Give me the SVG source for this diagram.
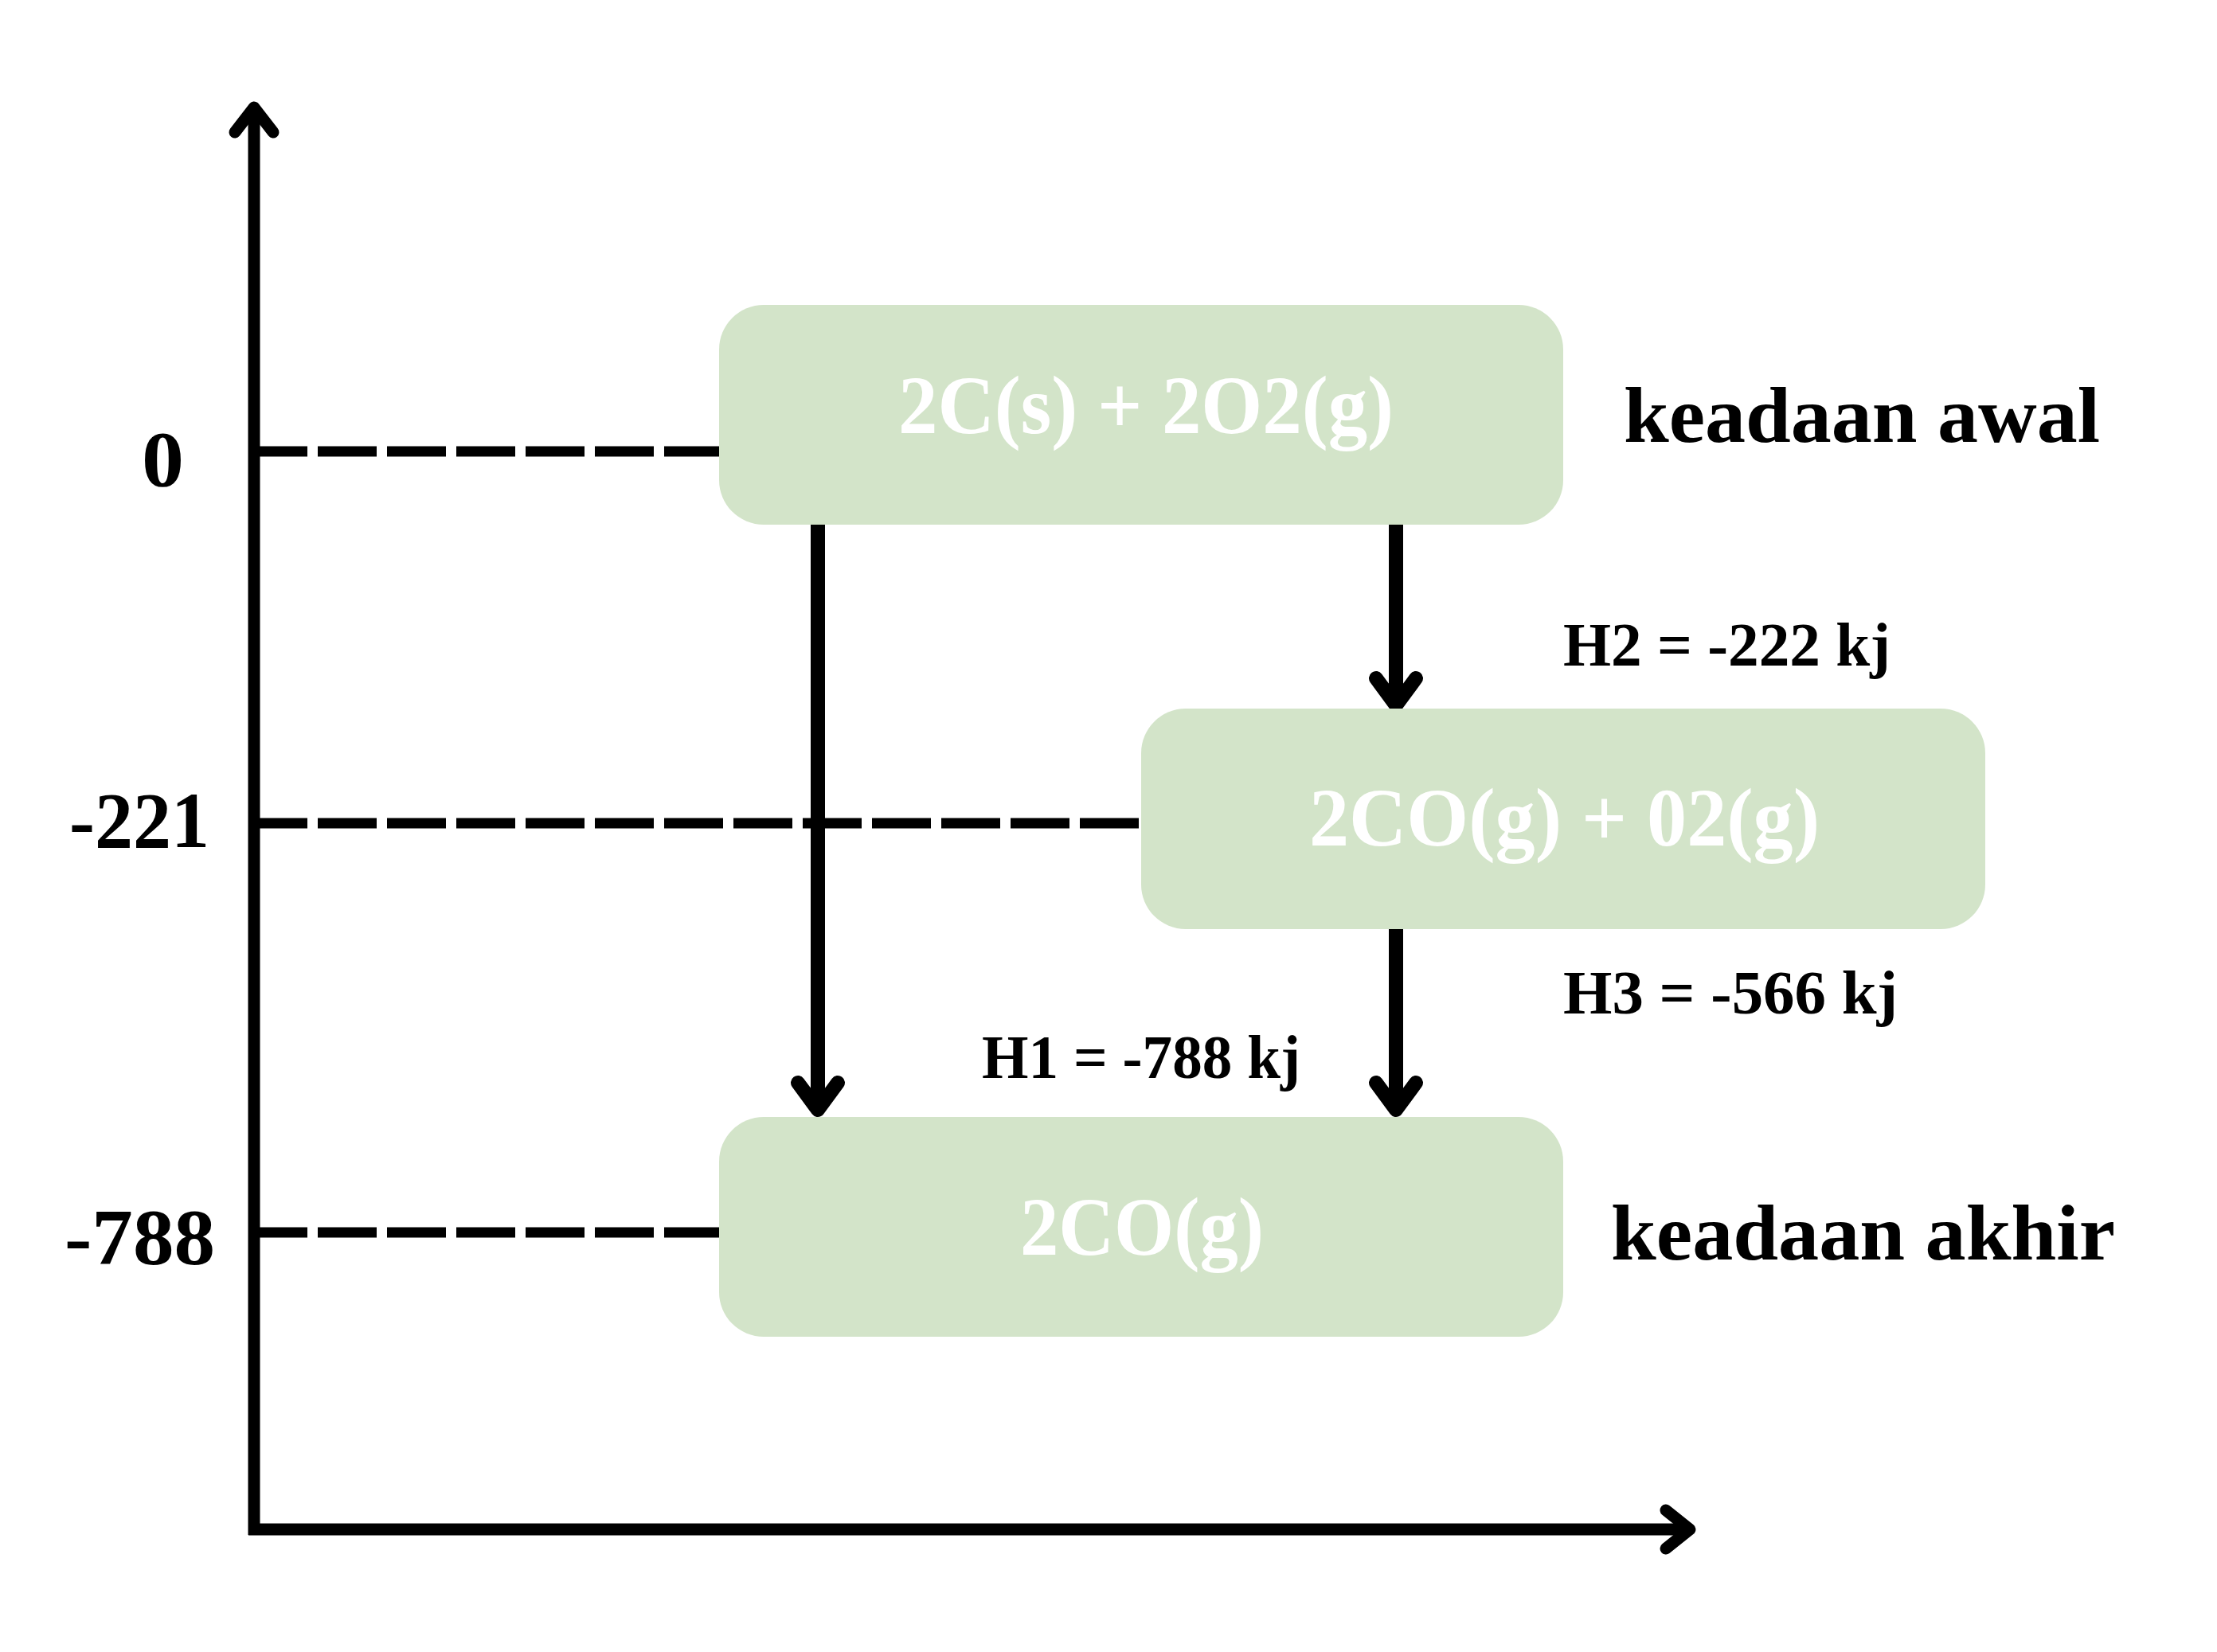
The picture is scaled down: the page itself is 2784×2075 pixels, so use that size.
<svg xmlns="http://www.w3.org/2000/svg" width="2784" height="2075" viewBox="0 0 2784 2075">
<style>
.bg{fill:#ffffff}
.box{fill:#d3e4c9}
.axis{stroke:#000;stroke-width:15;fill:none;stroke-linecap:butt}
.head{stroke:#000;stroke-width:15;fill:none;stroke-linecap:round;stroke-linejoin:round}
.dash{stroke:#000;stroke-width:13;fill:none;stroke-dasharray:74 13}
.arr{stroke:#000;stroke-width:18;fill:none}
.arrh{stroke:#000;stroke-width:18;fill:none;stroke-linecap:round;stroke-linejoin:round}
text{font-family:"Liberation Serif","DejaVu Serif",serif;font-weight:bold}
.lbl{font-size:100px;fill:#000}
.hl{font-size:78px;fill:#000}
.bt{font-size:104px;fill:#fff}
</style>
<rect class="bg" x="0" y="0" width="2784" height="2075"/>
<g id="axes">
<line class="axis" x1="319" y1="135" x2="319" y2="1928"/>
<polyline class="head" points="295,166 319,135 343,166"/>
<line class="axis" x1="312" y1="1921" x2="2120" y2="1921"/>
<polyline class="head" points="2092,1897 2122,1921 2092,1945"/>
</g>
<g id="levels">
<line class="dash" x1="312" y1="567" x2="903" y2="567"/>
<line class="dash" x1="312" y1="1034" x2="1433" y2="1034"/>
<line class="dash" x1="312" y1="1548" x2="903" y2="1548"/>
<text class="lbl" x="178" y="610" textLength="53" lengthAdjust="spacingAndGlyphs">0</text>
<text class="lbl" x="87" y="1064" textLength="176" lengthAdjust="spacingAndGlyphs">-221</text>
<text class="lbl" x="81" y="1587" textLength="189" lengthAdjust="spacingAndGlyphs">-788</text>
</g>
<g id="connectors">
<line class="arr" x1="1027" y1="659" x2="1027" y2="1390"/>
<polyline class="arrh" points="1002,1360 1027,1394 1052,1360"/>
<line class="arr" x1="1753" y1="659" x2="1753" y2="882"/>
<polyline class="arrh" points="1728,852 1753,886 1778,852"/>
<line class="arr" x1="1753" y1="1167" x2="1753" y2="1390"/>
<polyline class="arrh" points="1728,1360 1753,1394 1778,1360"/>
<text class="hl" x="1963" y="836" textLength="411" lengthAdjust="spacingAndGlyphs">H2 = -222 kj</text>
<text class="hl" x="1963" y="1273" textLength="420" lengthAdjust="spacingAndGlyphs">H3 = -566 kj</text>
<text class="hl" x="1233" y="1354" textLength="400" lengthAdjust="spacingAndGlyphs">H1 = -788 kj</text>
</g>
<g id="node-awal">
<rect class="box" x="903" y="383" width="1060" height="276" rx="56" ry="56"/>
<text class="bt" x="1128" y="544" textLength="622" lengthAdjust="spacingAndGlyphs">2C(s) + 2O2(g)</text>
<text class="lbl" x="2039" y="555" textLength="598" lengthAdjust="spacingAndGlyphs">keadaan awal</text>
</g>
<g id="node-antara">
<rect class="box" x="1433" y="890" width="1060" height="277" rx="56" ry="56"/>
<text class="bt" x="1644" y="1062" textLength="641" lengthAdjust="spacingAndGlyphs">2CO(g) + 02(g)</text>
</g>
<g id="node-akhir">
<rect class="box" x="903" y="1403" width="1060" height="276" rx="56" ry="56"/>
<text class="bt" x="1281" y="1576" textLength="306" lengthAdjust="spacingAndGlyphs">2CO(g)</text>
<text class="lbl" x="2023" y="1582" textLength="633" lengthAdjust="spacingAndGlyphs">keadaan akhir</text>
</g>
</svg>
